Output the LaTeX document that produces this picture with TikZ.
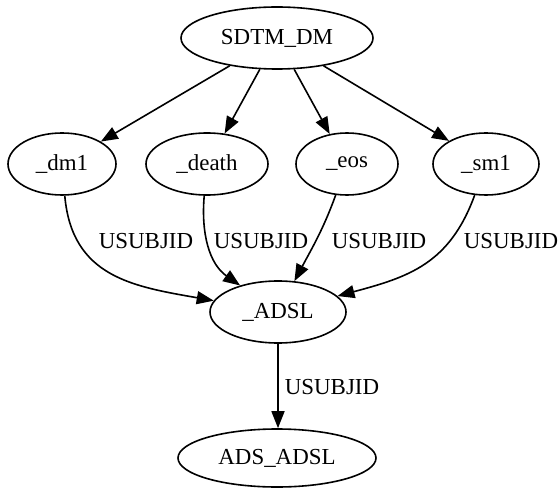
\documentclass[tikz,border=0pt]{standalone}
\usepackage{fontspec}
\setmainfont{Liberation Serif}
\usetikzlibrary{arrows.meta, positioning, shapes.geometric}

\begin{document}
\begin{tikzpicture}[
    x=1bp, y=1bp,
    dataset/.style={
      ellipse, draw=black, line width=1.6bp, inner sep=2pt,
      minimum height=62bp, font=\fontsize{23}{27}\selectfont
    },
    link/.style={-{Triangle[length=17bp, width=13bp]}, line width=1.6bp},
    keylabel/.style={font=\fontsize{23}{27}\selectfont, inner sep=0pt}
  ]
    \useasboundingbox (0,0) rectangle (560,-488);
    % --- Row 1: source domain ---
    \node[dataset, minimum width=192bp] (sdtm) at (277,-38) {SDTM\_DM};
    % --- Row 2: four work datasets ---
    \node[dataset, minimum width=108bp] (dm1)   at (62,-164)  {\_dm1};
    \node[dataset, minimum width=122bp] (death) at (207,-164) {\_death};
    \node[dataset, minimum width=102bp] (eos)   at (347,-164) {\_eos};
    \node[dataset, minimum width=106bp] (sm1)   at (486,-164) {\_sm1};
    % --- Row 3: merge, then final dataset ---
    \node[dataset, minimum width=136bp] (adsl) at (278,-312) {\_ADSL};
    \node[dataset, minimum width=198bp, minimum height=58bp] (ads) at (277,-458) {ADS\_ADSL};
    % --- Arrows: split from the source ---
    \draw[link] (sdtm) -- (dm1.30);
    \draw[link] (sdtm) -- (death.60);
    \draw[link] (sdtm) -- (eos.120);
    \draw[link] (sdtm) -- (sm1.148);
    % --- Arrows: merge by key ---
    \draw[link] (dm1) to[out=-85, in=170, looseness=1.15] (adsl)
      node[keylabel] (key1) at (146,-241) {USUBJID};
    \draw[link] (death) to[out=-95, in=145] (adsl)
      node[keylabel] (key2) at (261,-241) {USUBJID};
    \draw[link] (eos) to[out=-110, in=62] (adsl)
      node[keylabel] (key3) at (379,-241) {USUBJID};
    \draw[link] (sm1) to[out=-110, in=15, looseness=1.1] (adsl)
      node[keylabel] (key4) at (511,-241) {USUBJID};
    \draw[link] (adsl) -- (adsl |- ads.north)
      node[keylabel] (key5) at (332,-387) {USUBJID};
  \end{tikzpicture}
\end{document}
